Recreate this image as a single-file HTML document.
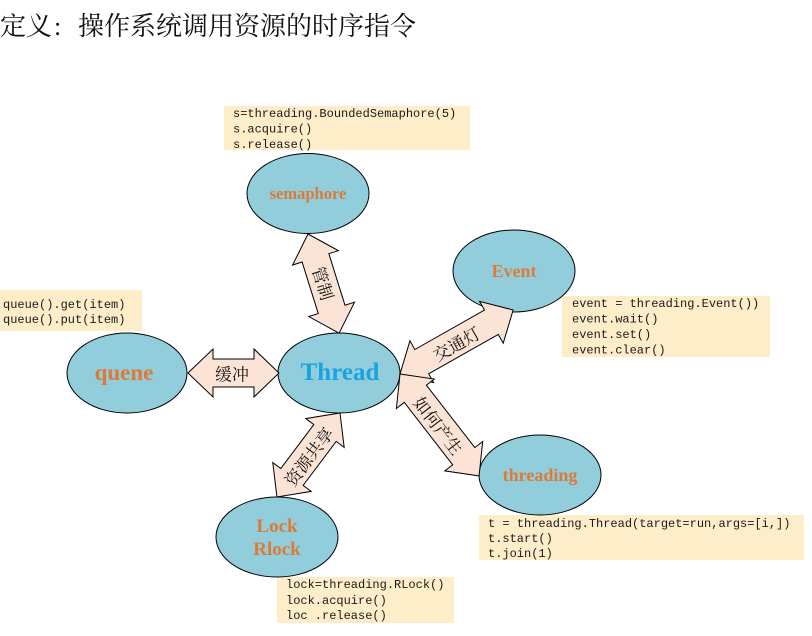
<!DOCTYPE html>
<html>
<head>
<meta charset="utf-8">
<style>
html,body{margin:0;padding:0;background:#fff;}
svg{display:block;}
.code{font-family:"Liberation Mono",monospace;font-size:12px;fill:#1a1a1a;}
.lbl{font-family:"Noto Serif CJK SC","Liberation Serif",serif;font-size:17px;fill:#111;}
.node{font-family:"Liberation Serif",serif;font-weight:bold;fill:#DD7A35;}
.ttl{font-family:'Noto Serif CJK SC','WenQuanYi Zen Hei',serif;font-size:26px;fill:#111;}
</style>
</head>
<body>
<svg width="812" height="636" viewBox="0 0 812 636" xmlns="http://www.w3.org/2000/svg">
  <!-- Title -->
  <text class="ttl" x="0" y="35">定义</text>
  <text x="54" y="35" style="font-family:'Liberation Serif',serif;font-size:26px;fill:#111;">:</text>
  <text class="ttl" x="78" y="35">操作系统调用资源的时序指令</text>

  <!-- Code boxes -->
  <rect x="224" y="106" width="246" height="44" fill="#FDEDC9"/>
  <text class="code" x="233" y="117">s=threading.BoundedSemaphore(5)</text>
  <text class="code" x="233" y="132.5">s.acquire()</text>
  <text class="code" x="233" y="148">s.release()</text>

  <rect x="0" y="290" width="142" height="41" fill="#FDEDC9"/>
  <text class="code" x="3" y="308">queue().get(item)</text>
  <text class="code" x="3" y="323">queue().put(item)</text>

  <rect x="562" y="296" width="208" height="61" fill="#FDEDC9"/>
  <text class="code" x="572" y="307">event = threading.Event())</text>
  <text class="code" x="572" y="322.5">event.wait()</text>
  <text class="code" x="572" y="338">event.set()</text>
  <text class="code" x="572" y="353.5">event.clear()</text>

  <rect x="479" y="515" width="325" height="45" fill="#FDEDC9"/>
  <text class="code" x="488" y="527">t = threading.Thread(target=run,args=[i,])</text>
  <text class="code" x="488" y="542">t.start()</text>
  <text class="code" x="488" y="557">t.join(1)</text>

  <rect x="277" y="577" width="177" height="46" fill="#FDEDC9"/>
  <text class="code" x="286" y="588">lock=threading.RLock()</text>
  <text class="code" x="286" y="604">lock.acquire()</text>
  <text class="code" x="286" y="619">loc .release()</text>

  <!-- Ellipses -->
  <g fill="#92CDDC" stroke="#000" stroke-width="1">
    <ellipse cx="308" cy="193.5" rx="61" ry="40"/>
    <ellipse cx="339" cy="373" rx="61" ry="40"/>
    <ellipse cx="127" cy="373" rx="60" ry="40"/>
    <ellipse cx="514" cy="271" rx="61" ry="41"/>
    <ellipse cx="540" cy="475" rx="61" ry="40"/>
    <ellipse cx="277" cy="537" rx="61" ry="40"/>
  </g>

  <!-- Arrows -->
  <g fill="#FBE4D5" stroke="#000" stroke-width="1" stroke-linejoin="miter">
    <polygon transform="translate(188,373)" points="0,0 25,-24 25,-14 66,-14 66,-24 91,0 66,24 66,14 25,14 25,24"/>
    <polygon transform="translate(308,234) rotate(72.6)" points="0,0 25,-24 25,-14 79,-14 79,-24 104,0 79,24 79,14 25,14 25,24"/>
    <polygon transform="translate(400,374) rotate(-29.5)" points="0,0 25,-24 25,-14 105,-14 105,-24 130,0 105,24 105,14 25,14 25,24"/>
    <polygon transform="translate(400,374) rotate(52.2)" points="0,0 25,-24 25,-14 104,-14 104,-24 129,0 104,24 104,14 25,14 25,24"/>
    <polygon transform="translate(340,413) rotate(126.9)" points="0,0 25,-24 25,-14 80,-14 80,-24 105,0 80,24 80,14 25,14 25,24"/>
  </g>

  <!-- Arrow labels -->
  <text class="lbl" x="232" y="373" text-anchor="middle" dominant-baseline="central">缓冲</text>
  <text class="lbl" text-anchor="middle" dominant-baseline="central" transform="translate(324,283) rotate(72.6)">管制</text>
  <text class="lbl" text-anchor="middle" dominant-baseline="central" transform="translate(456,343) rotate(-29.5)">交通灯</text>
  <text class="lbl" text-anchor="middle" dominant-baseline="central" transform="translate(439,425) rotate(52.2)">如何产生</text>
  <text class="lbl" text-anchor="middle" dominant-baseline="central" transform="translate(308,456) rotate(-53.1)">资源共享</text>

  <!-- Node labels -->
  <text class="node" x="308" y="199" text-anchor="middle" style="font-size:16.5px;">semaphore</text>
  <text x="340" y="380" text-anchor="middle" style="font-family:'Liberation Serif',serif;font-weight:bold;font-size:25px;fill:#1AA3E0;">Thread</text>
  <text class="node" x="124" y="380" text-anchor="middle" style="font-size:23px;">quene</text>
  <text class="node" x="514" y="277" text-anchor="middle" style="font-size:18px;">Event</text>
  <text class="node" x="540" y="481" text-anchor="middle" style="font-size:18px;">threading</text>
  <text class="node" x="277" y="532" text-anchor="middle" style="font-size:19px;">Lock</text>
  <text class="node" x="277" y="555" text-anchor="middle" style="font-size:19px;">Rlock</text>
</svg>
</body>
</html>
